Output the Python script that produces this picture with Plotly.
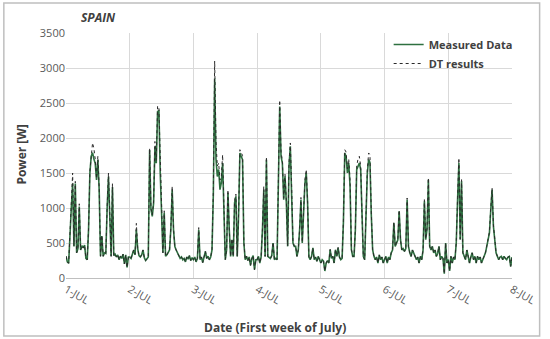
import pandas as pd
import plotly.graph_objects as go

# ---- data (half-hourly readings, W) ----
tick_labels = ["1-JUL", "2-JUL", "3-JUL", "4-JUL", "5-JUL", "6-JUL", "7-JUL", "8-JUL"]

meas_d1 = [310,230,210,690,1000,1350,450,1350,360,420,1020,400,460,430,470,280,260,700,1500,1740,1790,1700,1640,1400,1690,1260,310,600,310,360,350,1000,1450,880,310,1300,320,340,300,330,260,310,280,340,200,330,150,300]
meas_d2 = [300,280,330,400,330,690,420,320,300,330,400,290,250,270,300,1830,980,880,1070,1880,1640,2380,2390,1500,980,360,930,310,330,360,400,700,1260,690,450,400,350,310,280,300,260,280,230,300,270,320,250,290]
meas_d3 = [262,300,230,280,690,262,300,220,290,380,280,310,260,300,400,1200,2850,1700,1450,1550,1262,1357,1643,690,262,404,1214,690,309,547,309,1072,1166,309,880,1786,1738,1690,500,262,309,250,300,180,280,320,120,260]
meas_d4 = [262,309,214,300,690,1262,309,1690,309,300,280,320,500,262,280,262,1500,2450,1738,1643,1119,1452,1072,452,1595,1881,1166,500,452,452,309,400,690,1119,500,1000,1357,1500,1072,300,262,309,430,262,300,240,309,262]
meas_d5 = [214,262,240,100,214,250,214,404,280,309,214,404,309,430,300,262,280,800,1786,1738,1500,1643,1310,404,309,309,690,1548,1600,1643,1548,880,309,262,800,1500,1690,1650,900,404,309,262,300,214,330,262,300,214]
meas_d6 = [262,309,214,300,262,360,400,786,452,500,547,952,547,400,420,380,420,1119,452,360,309,400,360,309,262,300,214,309,262,400,1095,547,700,1405,452,400,452,360,400,309,350,452,262,309,280,60,500,214]
meas_d7 = [262,100,309,214,300,262,500,1119,1643,547,1381,360,300,262,400,309,214,300,360,262,309,214,309,262,300,214,262,309,360,452,547,643,976,1262,738,547,360,309,262,300,309,262,309,280,262,300,309,166]
meas_end = [300]

dt_d1 = [310,230,210,700,1020,1500,460,1380,360,420,1060,400,460,430,470,280,260,710,1530,1780,1930,1850,1700,1420,1740,1290,310,610,310,360,350,1020,1500,900,310,1350,320,340,300,330,260,310,280,340,200,330,150,300]
dt_d2 = [300,280,330,400,340,780,430,320,300,330,400,290,250,270,310,1850,1000,900,1100,1950,1680,2460,2420,1600,1000,360,960,310,330,360,400,720,1310,700,450,400,350,310,280,300,260,280,230,300,270,320,250,290]
dt_d3 = [262,300,230,280,720,262,300,220,290,380,280,310,260,300,410,1250,3100,1950,1600,1640,1400,1450,1760,720,262,410,1260,700,309,560,309,1100,1200,309,900,1833,1780,1750,520,262,309,250,300,180,280,320,120,260]
dt_d4 = [262,309,214,300,700,1310,309,1730,309,300,280,320,510,262,280,262,1550,2540,1800,1680,1140,1480,1100,460,1650,1929,1300,510,452,452,309,400,700,1150,510,1030,1400,1550,1100,300,262,309,430,262,300,240,309,262]
dt_d5 = [214,262,240,100,214,250,214,410,280,309,214,410,309,440,300,262,280,820,1833,1800,1560,1700,1400,410,309,309,700,1600,1700,1738,1600,900,309,262,820,1550,1786,1760,930,410,309,262,300,214,330,262,300,214]
dt_d6 = [262,309,214,300,262,360,400,800,452,500,560,970,547,400,420,380,420,1143,452,360,309,400,360,309,262,300,214,309,262,400,1119,560,710,1430,452,400,452,360,400,309,350,452,262,309,280,60,500,214]
dt_d7 = [262,100,309,214,300,262,510,1150,1714,560,1405,360,300,262,400,309,214,300,360,262,309,214,309,262,300,214,262,309,360,460,560,660,1000,1286,760,547,360,309,262,300,309,262,309,280,262,300,309,166]
dt_end = [300]

measured = meas_d1 + meas_d2 + meas_d3 + meas_d4 + meas_d5 + meas_d6 + meas_d7 + meas_end
dt_results = dt_d1 + dt_d2 + dt_d3 + dt_d4 + dt_d5 + dt_d6 + dt_d7 + dt_end

times = pd.date_range("2024-07-01 00:00", periods=len(measured), freq="30min")
tick_vals = pd.date_range("2024-07-01", periods=len(tick_labels), freq="D")

FONT = "Open Sans"
GRID = "#d9d9d9"
TXT = "#595959"

fig = go.Figure()
fig.add_trace(go.Scatter(
    x=times, y=measured, mode="lines", name="Measured Data",
    line=dict(color="#2e7040", width=1.6), legendrank=1,
))
fig.add_trace(go.Scatter(
    x=times, y=dt_results, mode="lines", name="DT results",
    line=dict(color="#2a2a2a", width=1, dash="dot"), legendrank=2,
))

L, R, T, B = 66, 32, 33, 61
W, H = 550, 339
pw, ph = W - L - R, H - T - B

def px(x):
    return (x - L) / pw

def py(y):
    return (H - B - y) / ph

fig.update_layout(
    width=W, height=H,
    margin=dict(l=L, r=R, t=T, b=B),
    paper_bgcolor="white", plot_bgcolor="white",
    font=dict(family=FONT, size=11, color=TXT),
    showlegend=True,
    legend=dict(
        x=px(393), y=py(30), xanchor="left", yanchor="top",
        bgcolor="rgba(0,0,0,0)", itemwidth=30,
        font=dict(family=FONT, size=11, color="#404040", weight="bold"),
        tracegroupgap=0,
    ),
    xaxis=dict(
        range=[tick_vals[0], tick_vals[-1]],
        tickvals=tick_vals, ticktext=tick_labels, tickangle=30,
        showgrid=True, gridcolor=GRID, gridwidth=1,
        showline=True, linecolor="#bfbfbf", linewidth=1,
        zeroline=False, ticks="",
        tickfont=dict(family=FONT, size=11, color=TXT),
    ),
    yaxis=dict(
        range=[0, 3500], dtick=500, tick0=0,
        showgrid=True, gridcolor=GRID, gridwidth=1,
        zeroline=False, showline=False, ticks="",
        tickfont=dict(family=FONT, size=11, color=TXT),
    ),
    annotations=[
        dict(text="<b><i>SPAIN</i></b>", xref="paper", yref="paper",
             x=px(79), y=py(18), xanchor="left", yanchor="middle",
             showarrow=False, font=dict(family=FONT, size=12, color="#404040")),
        dict(text="<b>Date (First week of July)</b>", xref="paper", yref="paper",
             x=px(278), y=py(327), xanchor="center", yanchor="middle",
             showarrow=False, font=dict(family=FONT, size=12, color="#404040")),
        dict(text="<b>Power [W]</b>", xref="paper", yref="paper",
             x=px(20), y=py(155), xanchor="center", yanchor="middle", textangle=-90,
             showarrow=False, font=dict(family=FONT, size=12, color="#404040")),
    ],
    shapes=[
        dict(type="rect", xref="paper", yref="paper",
             x0=px(3), x1=px(546), y0=py(336), y1=py(3),
             line=dict(color="#bfbfbf", width=1.5), layer="below"),
    ],
)

fig.write_html("out.html", config={"displayModeBar": False})

# remove the browser's default page margin so the figure sits at (0, 0)
with open("out.html", "r", encoding="utf-8") as f:
    html = f.read()
html = html.replace("<head>", "<head><style>html,body{margin:0;padding:0;overflow:hidden;}</style>", 1)
with open("out.html", "w", encoding="utf-8") as f:
    f.write(html)
